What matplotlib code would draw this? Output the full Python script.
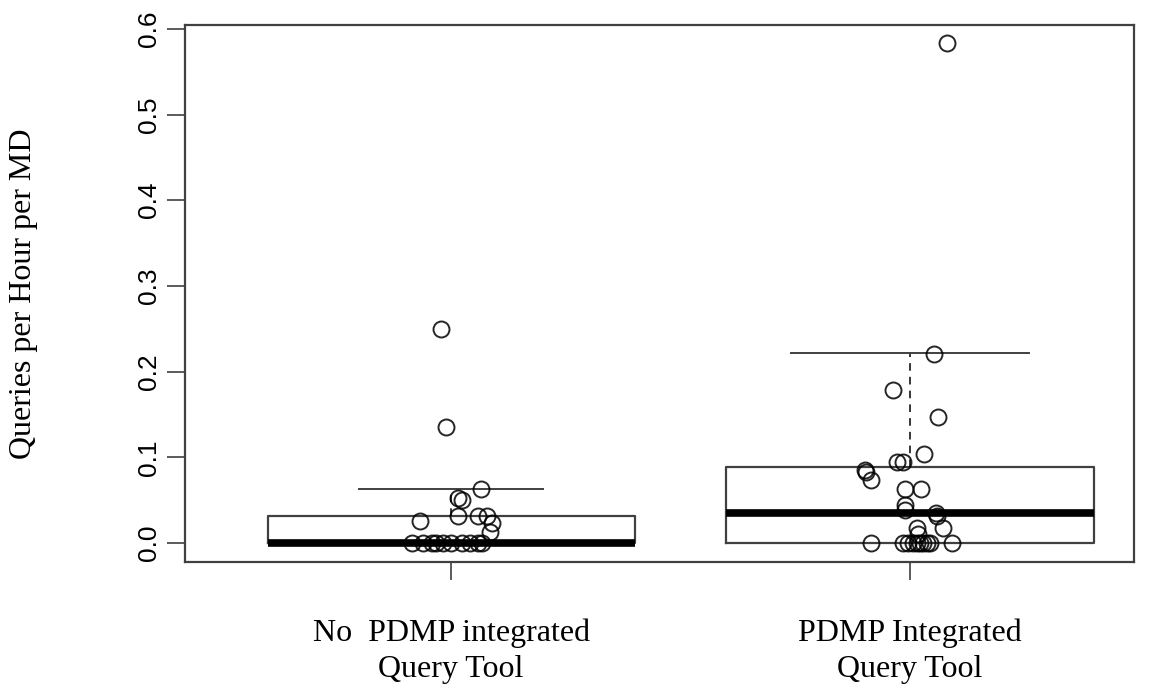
import matplotlib.pyplot as plt

# group labels
groups = ["No  PDMP integrated\nQuery Tool", "PDMP Integrated\nQuery Tool"]

# box summaries
q1 = [0.0, 0.0]
medians = [0.0, 0.035]
q3 = [0.032, 0.089]
whisk_lo = [0.0, 0.0]
whisk_hi = [0.063, 0.222]

# jittered points: x position, value
g1_x = [0.978, 0.989, 1.065, 1.015, 1.024, 1.015, 1.059, 1.078, 0.932, 1.089, 1.085,
        0.915, 0.939, 0.959, 0.967, 0.983, 1.000, 1.024, 1.041, 1.059, 1.068]
g1_y = [0.250, 0.135, 0.063, 0.052, 0.050, 0.031, 0.031, 0.031, 0.026, 0.023, 0.013,
        0.0, 0.0, 0.0, 0.0, 0.0, 0.0, 0.0, 0.0, 0.0, 0.0]

g2_x = [2.081, 2.052, 1.963, 2.061, 2.031, 1.972, 1.985, 1.902, 1.904, 1.915, 1.989,
        2.024, 1.989, 1.989, 2.057, 2.059, 2.072, 2.015, 2.017,
        1.915, 1.985, 1.996, 2.007, 2.015, 2.022, 2.028, 2.037, 2.044, 2.092]
g2_y = [0.583, 0.221, 0.178, 0.147, 0.104, 0.095, 0.095, 0.085, 0.083, 0.0735, 0.063,
        0.063, 0.044, 0.0385, 0.035, 0.031, 0.018, 0.017, 0.011,
        0.0, 0.0, 0.0, 0.0, 0.0, 0.0, 0.0, 0.0, 0.0, 0.0]

yticks = [0.0, 0.1, 0.2, 0.3, 0.4, 0.5, 0.6]

fig = plt.figure(figsize=(11.72, 6.85), dpi=100)
ax = fig.add_axes([0.1578, 0.1796, 0.8098, 0.7839])

stats = []
for i in range(2):
    stats.append(dict(q1=q1[i], med=medians[i], q3=q3[i],
                      whislo=whisk_lo[i], whishi=whisk_hi[i], fliers=[]))

edge = '#404040'
ax.bxp(stats, positions=[1, 2], widths=0.8, capwidths=[0.4, 0.52],
       showfliers=False, patch_artist=False,
       boxprops=dict(color=edge, lw=1.6),
       medianprops=dict(color='black', lw=5.5, solid_capstyle='butt'),
       whiskerprops=dict(color='black', lw=1.1, linestyle=(0, (5, 4))),
       capprops=dict(color=edge, lw=1.4))

ax.plot(g1_x, g1_y, 'o', ms=11.5, mfc='none', mec='black', mew=1.4, alpha=0.85)
ax.plot(g2_x, g2_y, 'o', ms=11.5, mfc='none', mec='black', mew=1.4, alpha=0.85)

ax.set_xlim(0.42, 2.488)
ax.set_ylim(-0.0222, 0.6045)

ax.set_yticks(yticks)
ax.set_yticklabels([f"{v:.1f}" for v in yticks], rotation=90, va='center',
                   fontsize=19, family='Liberation Sans')
ax.set_xticks([1, 2])
ax.set_xticklabels(groups, fontsize=23, family='Liberation Serif', linespacing=1.3)
ax.tick_params(axis='y', length=13, width=1.2, color=edge, pad=4)
ax.tick_params(axis='x', length=13, width=1.2, color=edge, pad=28)

for s in ax.spines.values():
    s.set_color(edge)
    s.set_linewidth(1.6)

ax.set_ylabel("Queries per Hour per MD", fontsize=23, family='Liberation Serif')
ax.yaxis.set_label_coords(-0.155, 0.5)

fig.savefig("out.png", dpi=100)
